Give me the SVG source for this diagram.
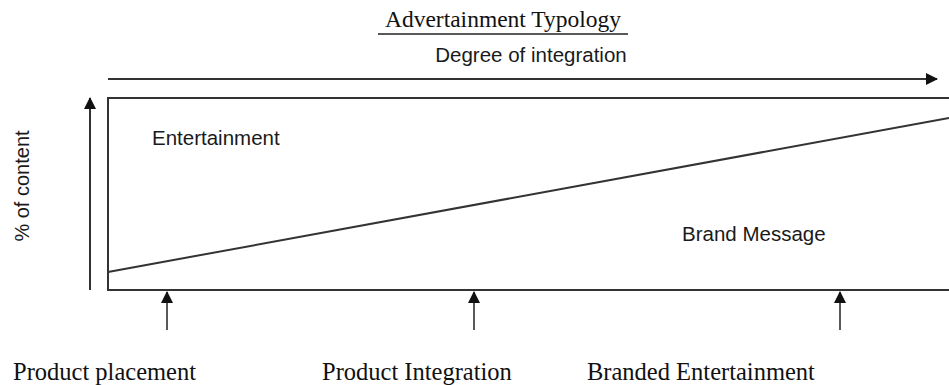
<svg xmlns="http://www.w3.org/2000/svg" width="949" height="385" viewBox="0 0 949 385">
<defs>
<marker id="ah" markerWidth="12" markerHeight="12" refX="11" refY="6" orient="auto" markerUnits="userSpaceOnUse">
<path d="M0,0 L12,6 L0,12 Z" fill="#111"/>
</marker>
</defs>
<style>
.sans{font-family:"Liberation Sans",Arial,sans-serif;fill:#1a1a1a}
.serif{font-family:"Liberation Serif","Times New Roman",serif;fill:#111}
.ln{stroke:#333;stroke-width:2;fill:none}
</style>
<rect width="949" height="385" fill="#fff"/>
<g id="title">
<text class="serif" x="503" y="27" font-size="23.5" text-anchor="middle">Advertainment Typology</text>
<line x1="378" y1="34" x2="628" y2="34" stroke="#222" stroke-width="1.5"/>
</g>
<g id="chart">
<rect x="108" y="98" width="850" height="192" class="ln" stroke="#555"/>
<line x1="108" y1="272" x2="949" y2="118" class="ln"/>
</g>
<g id="connectors">
<line x1="108" y1="79" x2="937" y2="79" class="ln" marker-end="url(#ah)"/>
<line x1="90" y1="290" x2="90" y2="98" class="ln" marker-end="url(#ah)"/>
<line x1="167" y1="330" x2="167" y2="292" stroke="#222" stroke-width="1.5" marker-end="url(#ah)"/>
<line x1="474" y1="330" x2="474" y2="292" stroke="#222" stroke-width="1.5" marker-end="url(#ah)"/>
<line x1="840" y1="330" x2="840" y2="292" stroke="#222" stroke-width="1.5" marker-end="url(#ah)"/>
</g>
<g id="labels">
<text class="sans" x="531" y="62" font-size="20.5" text-anchor="middle">Degree of integration</text>
<text class="sans" x="152" y="145" font-size="20.5">Entertainment</text>
<text class="sans" x="682" y="241" font-size="20.5">Brand Message</text>
<text class="sans" font-size="20" text-anchor="middle" transform="translate(29,186) rotate(-90)">% of content</text>
</g>
<g id="types">
<text class="serif" x="13" y="380" font-size="24.5">Product placement</text>
<text class="serif" x="322" y="380" font-size="24.5">Product Integration</text>
<text class="serif" x="587" y="380" font-size="24.5">Branded Entertainment</text>
</g>
</svg>
